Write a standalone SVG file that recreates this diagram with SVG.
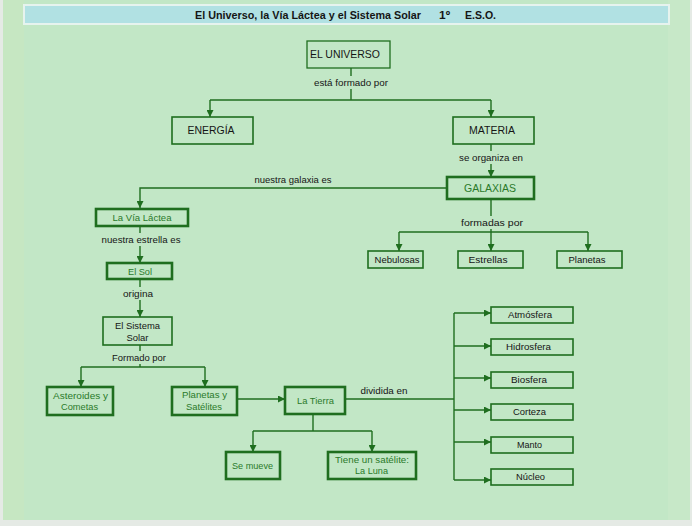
<svg xmlns="http://www.w3.org/2000/svg" width="692" height="526" viewBox="0 0 692 526">
<style>
  text { font-family: "Liberation Sans", Arial, sans-serif; }
  .big { font-size: 10.5px; fill: #151515; text-anchor: middle; }
  .lbl { font-size: 9.5px; fill: #151515; text-anchor: middle; }
  .gt { font-size: 9.5px; fill: #2a7a2a; text-anchor: middle; }
  .gb { font-size: 10.5px; fill: #2a7a2a; text-anchor: middle; }
  .thin { fill: #c2e7c6; stroke: #1f6e1f; stroke-width: 1.3; }
  .mid { fill: #c2e7c6; stroke: #1f6e1f; stroke-width: 1.6; }
  .thick { fill: #c2e7c6; stroke: #1f6e1f; stroke-width: 2.6; }
  .ln { fill: none; stroke: #1f6e1f; stroke-width: 1.4; }
  .lbg { fill: #c2e7c6; }
</style>
<defs>
  <marker id="ar" viewBox="0 0 8 8" refX="8" refY="4" markerWidth="7" markerHeight="7" markerUnits="userSpaceOnUse" orient="auto">
    <path d="M0,0 L8,4 L0,8 z" fill="#1f6e1f"/>
  </marker>
</defs>

<!-- background -->
<rect x="0" y="0" width="692" height="526" fill="#e5eae5"/>
<rect x="3" y="0" width="687" height="520" fill="#c2e7c6"/>
<rect x="3" y="0" width="21" height="520" fill="#c6e7c2"/>
<rect x="668" y="0" width="22" height="520" fill="#c7e8c8"/>
<rect x="24" y="5" width="645" height="19" fill="#b1e1e3" stroke="#e6f3ee" stroke-width="2"/>
<g id="title" font-weight="bold" font-size="11.5" fill="#151515">
  <text x="195" y="19" textLength="226" lengthAdjust="spacingAndGlyphs">El Universo, la Vía Láctea y el Sistema Solar</text>
  <text x="439" y="19" textLength="11" lengthAdjust="spacingAndGlyphs">1º</text>
  <text x="465" y="19" textLength="31" lengthAdjust="spacingAndGlyphs">E.S.O.</text>
</g>

<!-- connectors -->
<g id="connectors">
  <path class="ln" d="M351,68 V100"/>
  <path class="ln" d="M210,100 H491"/>
  <path class="ln" d="M210,100 V117" marker-end="url(#ar)"/>
  <path class="ln" d="M491,100 V117" marker-end="url(#ar)"/>
  <path class="ln" d="M491,144 V177" marker-end="url(#ar)"/>
  <path class="ln" d="M447,188 H140 V208" marker-end="url(#ar)"/>
  <path class="ln" d="M491,199 V232"/>
  <path class="ln" d="M399,232 H588"/>
  <path class="ln" d="M399,232 V251" marker-end="url(#ar)"/>
  <path class="ln" d="M491,232 V251" marker-end="url(#ar)"/>
  <path class="ln" d="M588,232 V251" marker-end="url(#ar)"/>
  <path class="ln" d="M140,226 V263" marker-end="url(#ar)"/>
  <path class="ln" d="M140,279 V317" marker-end="url(#ar)"/>
  <path class="ln" d="M140,345 V367"/>
  <path class="ln" d="M81,367 H205"/>
  <path class="ln" d="M81,367 V387" marker-end="url(#ar)"/>
  <path class="ln" d="M205,367 V387" marker-end="url(#ar)"/>
  <path class="ln" d="M237,399 H285" marker-end="url(#ar)"/>
  <path class="ln" d="M345,399 H454"/>
  <path class="ln" d="M454,313 V480"/>
  <path class="ln" d="M454,313 H491" marker-end="url(#ar)"/>
  <path class="ln" d="M454,346 H491" marker-end="url(#ar)"/>
  <path class="ln" d="M454,378 H491" marker-end="url(#ar)"/>
  <path class="ln" d="M454,410 H491" marker-end="url(#ar)"/>
  <path class="ln" d="M454,442 H491" marker-end="url(#ar)"/>
  <path class="ln" d="M454,480 H491" marker-end="url(#ar)"/>
  <path class="ln" d="M313,414 V431"/>
  <path class="ln" d="M253,431 H372"/>
  <path class="ln" d="M253,431 V452" marker-end="url(#ar)"/>
  <path class="ln" d="M372,431 V452" marker-end="url(#ar)"/>
  <!-- connector labels -->
  <rect class="lbg" x="310" y="76" width="82" height="13"/>
  <text class="lbl" x="351" y="86" textLength="74" lengthAdjust="spacingAndGlyphs">está formado por</text>
  <rect class="lbg" x="456" y="151" width="70" height="13"/>
  <text class="lbl" x="491" y="161" textLength="64" lengthAdjust="spacingAndGlyphs">se organiza en</text>
  <text class="lbl" x="293" y="183" textLength="77" lengthAdjust="spacingAndGlyphs">nuestra galaxia es</text>
  <rect class="lbg" x="459" y="216" width="66" height="13"/>
  <text class="lbl" x="492" y="226" textLength="62" lengthAdjust="spacingAndGlyphs">formadas por</text>
  <rect class="lbg" x="100" y="233" width="83" height="13"/>
  <text class="lbl" x="141" y="243" textLength="79" lengthAdjust="spacingAndGlyphs">nuestra estrella es</text>
  <rect class="lbg" x="120" y="287" width="36" height="13"/>
  <text class="lbl" x="138" y="297" textLength="30" lengthAdjust="spacingAndGlyphs">origina</text>
  <rect class="lbg" x="109" y="351" width="60" height="13"/>
  <text class="lbl" x="139" y="361" textLength="54" lengthAdjust="spacingAndGlyphs">Formado por</text>
  <text class="lbl" x="384" y="394" textLength="47" lengthAdjust="spacingAndGlyphs">dividida en</text>
</g>

<!-- nodes -->
<g id="universo"><rect class="thin" x="307" y="41" width="83" height="27"/><text class="big" x="345" y="58" textLength="70" lengthAdjust="spacingAndGlyphs">EL UNIVERSO</text></g>
<g id="energia"><rect class="mid" x="172" y="117" width="81" height="27"/><text class="big" x="211" y="134" textLength="47" lengthAdjust="spacingAndGlyphs">ENERGÍA</text></g>
<g id="materia"><rect class="mid" x="453" y="117" width="81" height="27"/><text class="big" x="492" y="134" textLength="46" lengthAdjust="spacingAndGlyphs">MATERIA</text></g>
<g id="galaxias"><rect class="thick" x="447" y="177" width="87" height="22"/><text class="gb" x="490" y="192" textLength="52" lengthAdjust="spacingAndGlyphs">GALAXIAS</text></g>
<g id="nebulosas"><rect class="mid" x="368" y="251" width="55" height="17"/><text class="lbl" x="397" y="263" textLength="45" lengthAdjust="spacingAndGlyphs">Nebulosas</text></g>
<g id="estrellas"><rect class="mid" x="458" y="251" width="65" height="17"/><text class="lbl" x="488" y="263" textLength="39" lengthAdjust="spacingAndGlyphs">Estrellas</text></g>
<g id="planetas"><rect class="mid" x="557" y="251" width="65" height="17"/><text class="lbl" x="587" y="263" textLength="37" lengthAdjust="spacingAndGlyphs">Planetas</text></g>
<g id="vialactea"><rect class="thick" x="96" y="209" width="92" height="17"/><text class="gt" x="142" y="221" textLength="59" lengthAdjust="spacingAndGlyphs">La Vía Láctea</text></g>
<g id="sol"><rect class="thick" x="107" y="263" width="65" height="16"/><text class="gt" x="140" y="275" textLength="24" lengthAdjust="spacingAndGlyphs">El Sol</text></g>
<g id="sistemasolar"><rect class="mid" x="103" y="317" width="69" height="28"/><text class="lbl" x="137.5" y="329" textLength="45" lengthAdjust="spacingAndGlyphs">El Sistema</text><text class="lbl" x="137.5" y="341" textLength="22" lengthAdjust="spacingAndGlyphs">Solar</text></g>
<g id="asteroides"><rect class="thick" x="47" y="387" width="66" height="28"/><text class="gt" x="80.5" y="399" textLength="55" lengthAdjust="spacingAndGlyphs">Asteroides y</text><text class="gt" x="79.5" y="410" textLength="37" lengthAdjust="spacingAndGlyphs">Cometas</text></g>
<g id="planetassat"><rect class="thick" x="172" y="387" width="65" height="28"/><text class="gt" x="204.5" y="398" textLength="45" lengthAdjust="spacingAndGlyphs">Planetas y</text><text class="gt" x="204" y="410" textLength="36" lengthAdjust="spacingAndGlyphs">Satélites</text></g>
<g id="tierra"><rect class="thick" x="285" y="387" width="60" height="27"/><text class="gt" x="315.5" y="404" textLength="37" lengthAdjust="spacingAndGlyphs">La Tierra</text></g>
<g id="semueve"><rect class="thick" x="226" y="452" width="54" height="27"/><text class="gt" x="252.5" y="469" textLength="41" lengthAdjust="spacingAndGlyphs">Se mueve</text></g>
<g id="luna"><rect class="thick" x="328" y="452" width="88" height="27"/><text class="gt" x="372" y="463" textLength="74" lengthAdjust="spacingAndGlyphs">Tiene un satélite:</text><text class="gt" x="371.5" y="474" textLength="33" lengthAdjust="spacingAndGlyphs">La Luna</text></g>
<g id="atmosfera"><rect class="mid" x="491" y="307" width="82" height="16"/><text class="lbl" x="530" y="318" textLength="44" lengthAdjust="spacingAndGlyphs">Atmósfera</text></g>
<g id="hidrosfera"><rect class="mid" x="491" y="339" width="82" height="16"/><text class="lbl" x="528.5" y="350" textLength="45" lengthAdjust="spacingAndGlyphs">Hidrosfera</text></g>
<g id="biosfera"><rect class="mid" x="491" y="372" width="82" height="16"/><text class="lbl" x="529" y="383" textLength="36" lengthAdjust="spacingAndGlyphs">Biosfera</text></g>
<g id="corteza"><rect class="mid" x="491" y="404" width="82" height="16"/><text class="lbl" x="529.5" y="415" textLength="33" lengthAdjust="spacingAndGlyphs">Corteza</text></g>
<g id="manto"><rect class="mid" x="491" y="437" width="82" height="16"/><text class="lbl" x="529.5" y="448" textLength="25" lengthAdjust="spacingAndGlyphs">Manto</text></g>
<g id="nucleo"><rect class="mid" x="491" y="469" width="82" height="16"/><text class="lbl" x="530.5" y="480" textLength="29" lengthAdjust="spacingAndGlyphs">Núcleo</text></g>
</svg>
